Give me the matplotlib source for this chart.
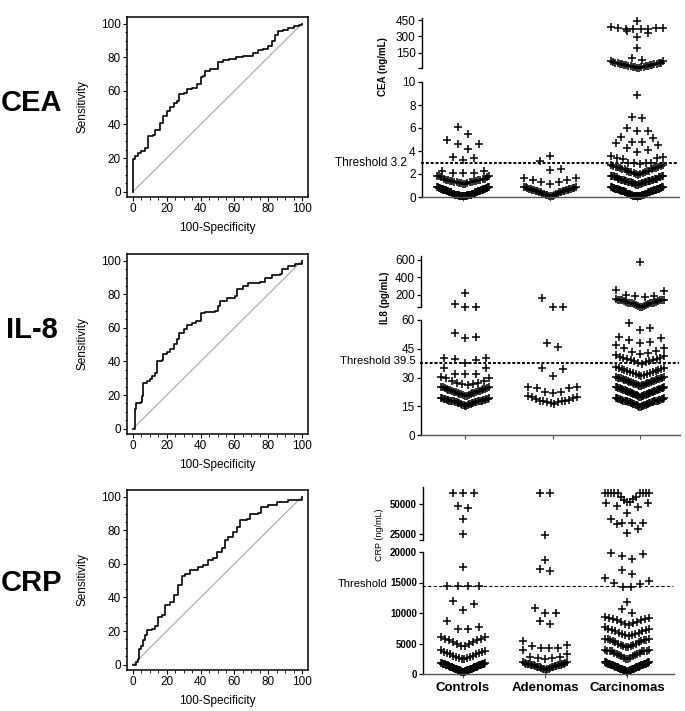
import numpy as np
import matplotlib
matplotlib.use("Agg")
import matplotlib.pyplot as plt
from matplotlib.ticker import MultipleLocator

plt.rcParams['font.family'] = ['Liberation Sans', 'DejaVu Sans']

# ---------------- data: ROC curves ----------------
cea_fpr = [0, 0, 1, 3, 5, 7, 9, 9, 12, 13, 16, 16, 18, 18, 20, 22, 24, 26, 27, 30,
           32, 35, 38, 40, 41.6, 42.6, 45.5, 49.5, 50.5, 53.5, 57, 61, 65, 68, 71, 74,
           77, 80, 82, 84, 86, 89, 92, 95, 98, 100]
cea_tpr = [0, 19.2, 21, 23, 24, 26, 29, 33, 34, 37, 37.6, 41, 42, 45, 48, 50.5, 53, 54, 58, 59,
           61, 62, 64, 68, 69, 72, 73, 73, 77, 78.6, 79, 80, 80.6, 81, 82.6, 84.6,
           85, 86.5, 89.5, 93.5, 95.4, 96.4, 97.4, 98.8, 99.4, 100]
il8_fpr = [0, 1, 2, 5, 5.5, 6, 8, 10, 11, 13, 14, 17, 18, 20, 22, 24, 26, 27.3, 30, 32,
           35, 37, 40, 42.6, 48.5, 50, 51.5, 55.4, 60.4, 61.8, 65, 68, 75, 78, 82, 87,
           88, 92, 96, 100]
il8_tpr = [0, 11.4, 15.3, 15.7, 19.3, 27.3, 28.3, 29.3, 31.3, 33.3, 40.2, 40.8, 44.2, 45.6,
           47.2, 50.2, 53.2, 57.2, 59.2, 61.6, 62.7, 64.1, 68.7, 69.5, 70.1, 73, 76, 77.5,
           79, 83, 85, 87, 87.5, 90, 91.4, 92, 95, 96.6, 98, 100]
crp_fpr = [0, 2, 3, 3.6, 5, 6, 7.3, 8, 11, 13, 15, 17, 19, 22, 24, 26.7, 28.7, 30.7, 33.7,
           38.6, 41.6, 44.5, 47.5, 49.5, 52.5, 54.5, 56.4, 59.4, 61.4, 63.4, 67.3, 69.3,
           74, 76, 80, 85, 92, 100]
crp_tpr = [0, 1.6, 3.6, 9.5, 11, 14.5, 17.5, 20.5, 21, 23, 28.4, 29.4, 35.4, 37.4, 41.4,
           47.3, 52.7, 54, 56.3, 57.9, 59.2, 62.2, 63.8, 67.2, 69.2, 74.2, 76.1, 79.1,
           81.7, 86, 87, 90, 90.5, 93.6, 95, 96.6, 98, 100]

# ---------------- data: scatter values (value, count) ----------------
groups = ['Controls', 'Adenomas', 'Carcinomas']

cea_ctrl_v = [0.05, 0.1, 0.15, 0.2, 0.3, 0.4, 0.5, 0.6, 0.7, 0.8, 0.85,
              1.1, 1.2, 1.3, 1.4, 1.5, 1.6, 1.7, 1.8, 1.85,
              2.1, 2.25, 3.2, 3.4, 3.5, 4.2, 4.6, 5.0, 5.5, 6.1]
cea_ctrl_n = [4, 6, 6, 6, 7, 7, 7, 7, 6, 6, 4,
              2, 3, 4, 4, 4, 3, 2, 2, 1,
              3, 2, 1, 1, 1, 1, 2, 1, 1, 1]
cea_aden_v = [0.1, 0.2, 0.3, 0.4, 0.5, 0.6, 0.7, 0.8, 0.9,
              1.15, 1.3, 1.5, 1.65, 2.35, 2.4, 3.1, 3.6]
cea_aden_n = [3, 3, 4, 4, 4, 4, 4, 3, 3, 1, 2, 2, 2, 1, 1, 1, 1]
cea_carc_v = [0.05, 0.1, 0.2, 0.3, 0.4, 0.5, 0.6, 0.7, 0.8, 0.85,
              1.05, 1.1, 1.2, 1.3, 1.4, 1.5, 1.6, 1.7, 1.8, 1.85,
              1.95, 2.0, 2.1, 2.2, 2.3, 2.4, 2.5, 2.6, 2.7, 2.75,
              2.9, 2.95, 3.0, 3.3, 3.4, 3.45, 3.55,
              3.9, 4.1, 4.25, 4.5, 4.7, 4.8, 5.1, 5.2, 5.75, 6.0, 6.9, 6.95, 8.9,
              12, 15, 20, 25, 30, 35, 40, 45, 50, 55, 60, 65, 70, 75,
              86, 102, 193, 295, 330, 345,
              365, 368, 370, 372, 375, 378, 380, 385, 440]
cea_carc_n = [4, 6, 7, 7, 7, 7, 7, 7, 6, 4,
              2, 3, 4, 5, 5, 5, 5, 4, 3, 2,
              1, 2, 2, 3, 3, 3, 3, 3, 2, 2,
              1, 1, 3, 1, 2, 1, 1,
              1, 1, 1, 1, 1, 2, 1, 1, 2, 1, 1, 1, 1,
              2, 2, 2, 2, 2, 2, 2, 2, 2, 2, 2, 1, 1, 1,
              1, 1, 1, 1, 1, 1,
              1, 1, 1, 1, 1, 1, 1, 1, 1]

il8_ctrl_v = [15, 15.5, 16, 16.5, 17, 17.5, 18, 18.5, 19, 19.5,
              20.5, 21, 21.5, 22, 22.5, 23, 23.5, 24, 24.5, 25, 25.2,
              26, 26.5, 27, 28, 29.5, 29.9, 30.4,
              31.7, 35, 37.4, 39.1, 39.6, 40, 40.3, 50.4, 51.3, 53,
              62, 95, 220]
il8_ctrl_n = [2, 3, 3, 4, 4, 4, 4, 4, 4, 3,
              2, 2, 3, 3, 3, 3, 3, 3, 2, 2, 1,
              1, 2, 2, 2, 1, 1, 1,
              3, 2, 1, 1, 1, 1, 1, 1, 1, 1,
              2, 1, 1]
il8_aden_v = [16, 16.5, 17, 17.5, 18, 18.5, 19, 19.5, 20, 20.5,
              21.7, 22.3, 22.6, 24.7, 25.2, 30.8, 34.3, 34.8, 45.7, 48.1,
              62, 160]
il8_aden_n = [1, 1, 2, 2, 2, 1, 1, 1, 2, 1,
              1, 1, 1, 2, 2, 1, 1, 1, 1, 1,
              2, 1]
il8_carc_v = [14.5, 15, 15.5, 16, 16.5, 17, 17.5, 18, 18.5, 19, 19.5,
              20, 20.5, 21, 21.5, 22, 22.5, 23, 23.5, 24, 24.5, 24.9,
              25.5, 26, 26.5, 27, 27.5, 28, 28.5, 29, 29.5, 30, 30.4,
              31, 31.5, 32, 32.5, 33, 33.5, 34, 34.5, 35, 35.5,
              37, 37.5, 38, 38.5, 39, 39.5, 40, 40.5, 41, 41.5,
              42.5, 43, 43.5, 44, 45.2, 45.5, 47, 47.8, 48.7, 49.6, 50.8, 51,
              54.8, 55.8, 58.3,
              62, 65, 70, 75, 80, 85, 90, 95, 100, 105, 110, 115, 120, 125, 130,
              135, 140, 145, 150,
              178, 182, 186, 192, 246, 257, 577]
il8_carc_n = [2, 3, 4, 4, 4, 4, 4, 4, 4, 4, 3,
              2, 3, 4, 4, 4, 4, 4, 4, 4, 4, 3,
              2, 3, 3, 3, 3, 3, 3, 3, 3, 2, 2,
              1, 2, 2, 2, 2, 2, 2, 2, 2, 1,
              1, 1, 1, 2, 2, 2, 2, 1, 1, 1,
              1, 1, 1, 1, 1, 1, 1, 1, 1, 1, 1, 1,
              1, 1, 1,
              1, 1, 1, 1, 1, 1, 1, 1, 2, 2, 2, 1, 1, 1, 1,
              2, 2, 2, 1,
              1, 1, 1, 1, 1, 1, 1]

crp_ctrl_v = [300, 400, 500, 600, 700, 800, 900, 1000, 1100, 1200, 1300, 1400, 1500,
              1600, 1700, 1800,
              2400, 2600, 2800, 3000, 3200, 3400, 3600, 3800, 3950,
              4600, 4900, 5200, 5500, 5800, 6050,
              7380, 7650, 8700, 10500, 11400, 12000, 14500, 17500,
              25000, 37200, 47000, 48000, 59000]
crp_ctrl_n = [2, 3, 3, 4, 4, 4, 4, 4, 4, 4, 4, 4, 4, 4, 4, 3,
              2, 2, 2, 2, 2, 2, 2, 1, 1,
              2, 2, 2, 2, 2, 2,
              2, 1, 1, 1, 1, 1, 4, 1,
              1, 1, 1, 1, 3]
crp_aden_v = [650, 800, 900, 1000, 1100, 1200, 1300, 1400, 1500, 1600, 1700, 1800, 1950,
              2400, 2570, 2740, 2840, 3280, 3930,
              4200, 4600, 4750, 5460,
              8200, 8700, 9950, 10050, 10770, 16930, 17160, 18690,
              24100, 59000]
crp_aden_n = [1, 2, 2, 2, 2, 3, 3, 3, 3, 3, 2, 2, 2,
              1, 2, 1, 1, 1, 1,
              3, 1, 1, 1,
              1, 1, 1, 1, 1, 1, 1, 1,
              1, 2]
crp_carc_v = [400, 500, 600, 700, 800, 900, 1000, 1100, 1200, 1300, 1400, 1500, 1600,
              1700, 1800, 1900,
              2500, 2700, 2900, 3100, 3300, 3500, 3700, 3850, 4000,
              4400, 4600, 4800, 5000, 5200, 5400, 5600, 5800,
              6200, 6400, 6600, 6800, 7000, 7200, 7400, 7650,
              8000, 8200, 8400, 8600, 8800, 9000, 9200, 9400,
              9950, 10600, 11850,
              14200, 14300, 14750, 14870, 15300, 15700, 16400, 17100,
              18900, 19300, 19700, 19900,
              25500, 28900, 33300, 33900, 34400, 37200,
              42700, 47700, 48300, 50600, 51800, 53700, 54000, 56000, 58900]
crp_carc_n = [2, 3, 3, 4, 4, 4, 4, 4, 4, 4, 4, 4, 4, 4, 4, 4,
              2, 2, 2, 2, 2, 2, 3, 3, 2,
              2, 2, 2, 2, 2, 2, 3, 3,
              1, 2, 2, 2, 2, 2, 2, 1,
              1, 1, 1, 2, 2, 2, 2, 1,
              1, 1, 1,
              1, 1, 1, 1, 1, 1, 1, 1,
              1, 1, 1, 1,
              1, 1, 1, 2, 1, 1,
              1, 1, 1, 2, 2, 1, 1, 2, 9]

cea_threshold_line = 3.0
il8_threshold_line = 37.5
crp_threshold_line = 14400

# ---------------- layout ----------------
W, H = 685, 711
fig = plt.figure(figsize=(W / 100, H / 100), dpi=100)


def rect(l, t, r, b):
    return [l / W, 1 - b / H, (r - l) / W, (b - t) / H]


def fx(x):
    return x / W


def fy(y):
    return 1 - y / H


# ---------------- ROC panels ----------------
roc_boxes = [(17, 197), (254, 434), (490, 670)]
roc_data = [(cea_fpr, cea_tpr), (il8_fpr, il8_tpr), (crp_fpr, crp_tpr)]
for (t, b), (fp, tp) in zip(roc_boxes, roc_data):
    ax = fig.add_axes(rect(127, t, 308, b))
    ax.set_xlim(-3.55, 103.55)
    ax.set_ylim(-3.2, 104.0)
    ax.plot([0, 100], [0, 100], color='#a8a8a8', lw=0.8)
    ax.step(fp, tp, where='post', color='black', lw=1.2)
    ax.set_xticks(range(0, 101, 20))
    ax.set_yticks(range(0, 101, 20))
    ax.xaxis.set_minor_locator(MultipleLocator(5))
    ax.yaxis.set_minor_locator(MultipleLocator(5))
    ax.tick_params(which='major', direction='out', length=3, width=0.8,
                   labelsize=8.5, pad=1.5, colors='black')
    ax.tick_params(which='minor', direction='out', length=1.8, width=0.6)
    for s in ax.spines.values():
        s.set_linewidth(1.1)
    ax.set_xlabel('100-Specificity', fontsize=8.5)
    ax.set_ylabel('Sensitivity', fontsize=8.5)
    ax.xaxis.set_label_coords(0.5, -0.14)
    ax.yaxis.set_label_coords(-0.215, 0.5)

# big row labels
for txt, y in [('CEA', 103), ('IL-8', 330), ('CRP', 583)]:
    fig.text(fx(32), fy(y), txt, fontsize=21, fontweight='bold', ha='center', va='center')


# ---------------- scatter (swarm) panels ----------------
def swarm(ax, vals, xc, row_h, half_w, step=10.5):
    vals = np.sort(np.asarray(vals, float))
    if len(vals) == 0:
        return
    tr = ax.transData
    ypx = tr.transform(np.column_stack([np.full(len(vals), xc), vals]))[:, 1]
    ppu = tr.transform((xc + 1, 0))[0] - tr.transform((xc, 0))[0]
    xs = np.full(len(vals), float(xc))
    i = 0
    while i < len(vals):
        j = i + 1
        while j < len(vals) and ypx[j] - ypx[i] < row_h:
            j += 1
        n = j - i
        if n > 1:
            s = min(step, 2 * half_w / (n - 1))
            slots = (np.arange(n) - (n - 1) / 2) * s
            order = sorted(range(n), key=lambda k: (abs(slots[k]), -slots[k]))
            for rank, k in enumerate(order):
                xs[i + rank] = xc + slots[k] / ppu
        i = j
    ax.plot(xs, vals, linestyle='none', marker='+', ms=5.5, mew=1.1,
            color='black', clip_on=False)


panels = [
    dict(lo=(422, 82, 679, 197), up=(422, 18.3, 679, 68), c0=463, c2=637,
         lo_ylim=(0, 10), up_ylim=(10, 466), lo_ticks=[0, 2, 4, 6, 8, 10],
         up_ticks=[150, 300, 450], data=[(cea_ctrl_v, cea_ctrl_n), (cea_aden_v, cea_aden_n),
                                          (cea_carc_v, cea_carc_n)],
         up_row=7.5, half_w=26, thr=cea_threshold_line, thr_lw=1.4, thr_dash=(1.5, 1.0),
         tick_fs=8.5, tick_fw='normal'),
    dict(lo=(421, 320, 680, 435), up=(421, 256, 680, 307), c0=465, c2=640,
         lo_ylim=(0, 60), up_ylim=(60, 642), lo_ticks=[0, 15, 30, 45, 60],
         up_ticks=[200, 400, 600], data=[(il8_ctrl_v, il8_ctrl_n), (il8_aden_v, il8_aden_n),
                                          (il8_carc_v, il8_carc_n)],
         up_row=10, half_w=24, thr=il8_threshold_line, thr_lw=1.4, thr_dash=(1.5, 1.0),
         tick_fs=8.5, tick_fw='normal'),
    dict(lo=(423, 552, 674, 674), up=(423, 487.2, 674, 540), c0=463, c2=627,
         lo_ylim=(0, 20000), up_ylim=(20000, 64000), lo_ticks=[0, 5000, 10000, 15000, 20000],
         up_ticks=[25000, 50000], data=[(crp_ctrl_v, crp_ctrl_n), (crp_aden_v, crp_aden_n),
                                        (crp_carc_v, crp_carc_n)],
         up_row=10, half_w=22, thr=crp_threshold_line, thr_lw=0.8, thr_dash=(3, 2),
         tick_fs=7, tick_fw='bold'),
]

for k, p in enumerate(panels):
    l, t, r, b = p['lo']
    ppu = (p['c2'] - p['c0']) / 2
    xlim = ((l - p['c0']) / ppu, (r - p['c0']) / ppu)
    lo = fig.add_axes(rect(*p['lo']))
    up = fig.add_axes(rect(*p['up']))
    for a, yl in ((lo, p['lo_ylim']), (up, p['up_ylim'])):
        a.set_xlim(*xlim)
        a.set_ylim(*yl)
        a.patch.set_visible(False)
        for sp in ('top', 'right'):
            a.spines[sp].set_visible(False)
        a.spines['left'].set_linewidth(1.0)
        a.tick_params(axis='y', direction='out', length=3, width=0.9, pad=1.5,
                      labelsize=p['tick_fs'])
    up.spines['bottom'].set_visible(False)
    up.set_xticks([])
    lo.spines['bottom'].set_color('#555555')
    lo.spines['bottom'].set_linewidth(1.0)
    lo.set_xticks([0, 1, 2])
    lo.tick_params(axis='x', direction='out', length=3, width=0.8, color='#555555', pad=3)
    if k == 2:
        lo.set_xticklabels(groups, fontsize=9.5, fontweight='bold')
    else:
        lo.set_xticklabels([])
    lo.set_yticks(p['lo_ticks'])
    lo.set_yticklabels([str(v) for v in p['lo_ticks']], fontweight=p['tick_fw'],
                       fontsize=p['tick_fs'])
    ut = [p['up_ylim'][0]] + p['up_ticks']
    up.set_yticks(ut)
    up.set_yticklabels([''] + [str(v) for v in p['up_ticks']], fontweight=p['tick_fw'],
                       fontsize=p['tick_fs'])

    split = p['lo_ylim'][1]
    for gi, (vals, cnts) in enumerate(p['data']):
        allv = np.repeat(np.asarray(vals, float), cnts)
        swarm(lo, allv[allv <= split], gi, 10, p['half_w'])
        swarm(up, allv[allv > split], gi, p['up_row'], p['half_w'])

    lo.plot([-0.005, 0.995], [p['thr'], p['thr']], transform=lo.get_yaxis_transform(),
            color='black', lw=p['thr_lw'], linestyle=(0, p['thr_dash']), clip_on=False)

# axis titles and threshold labels
fig.text(fx(383), fy(67), 'CEA (ng/mL)', rotation=90, fontsize=7, fontweight='bold',
         ha='center', va='center')
fig.text(fx(385), fy(298), 'IL8 (pg/mL)', rotation=90, fontsize=7, fontweight='bold',
         ha='center', va='center')
fig.text(fx(380), fy(535), 'CRP (ng/mL)', rotation=90, fontsize=6.5,
         ha='center', va='center')
fig.text(fx(335), fy(163), 'Threshold 3.2', fontsize=8.5, ha='left', va='center')
fig.text(fx(340), fy(361.5), 'Threshold 39.5', fontsize=8.2, ha='left', va='center')
fig.text(fx(338), fy(584), 'Threshold', fontsize=8, ha='left', va='center')

fig.savefig('out.png', dpi=100)
